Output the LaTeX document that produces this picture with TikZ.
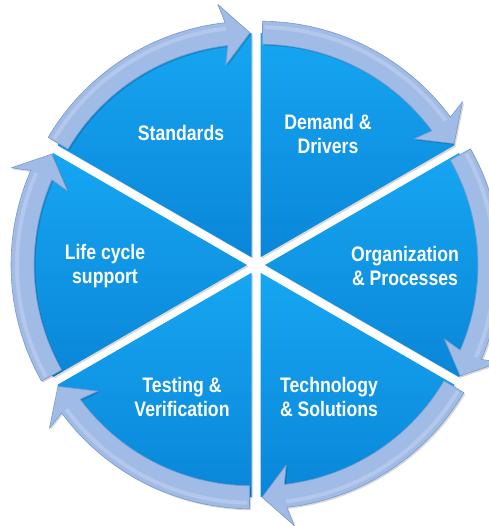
\documentclass[tikz,border=0pt]{standalone}
\usepackage{fontspec}
\setmainfont{Liberation Sans}[FakeStretch=0.84]
\definecolor{wedgetop}{HTML}{16A6F2}
\definecolor{wedgebot}{HTML}{0A86D8}
\definecolor{bandc}{HTML}{A0BBE6}
\definecolor{bandline}{HTML}{7A9ACC}
\begin{document}
\begin{tikzpicture}[x=1pt,y=1pt,
  wedgefill/.style={top color=wedgetop,bottom color=wedgebot,draw=none},
  wedgeshadow/.style={fill=black,opacity=0.15,draw=none},
  bandfill/.style={fill=bandc,draw=bandline,line width=0.6pt,line join=round},
  bandglow/.style={draw=white,opacity=0.2,line width=4pt},
  lbl/.style={text=white,font=\bfseries\fontsize{21}{24}\selectfont,align=center,inner sep=0pt}]
\useasboundingbox (0,0) rectangle (488,526);
\coordinate (C) at (256,261);
\foreach \b [evaluate=\b as \sa using \b+30,
             evaluate=\b as \ea using \b-30,
             evaluate=\b as \t using \b+29.5,
             evaluate=\b as \j using \b-23.6,
             evaluate=\b as \k using \b-22.4,
             evaluate=\b as \tip using \b-29.6] in {60,0,-60,-120,180,120} {
  \begin{scope}[shift={(C)},shift={(\b:9)}]
    \fill[wedgeshadow,shift={(1.5,-1.5)}] (0,0) -- (\sa:224) arc[start angle=\sa,end angle=\ea,radius=224] -- cycle;
    \shade[wedgefill] (0,0) -- (\sa:224) arc[start angle=\sa,end angle=\ea,radius=224] -- cycle;
    \fill[wedgeshadow,shift={(1.5,-1.5)}] (\t:236) arc[start angle=\t,end angle=\j,radius=236]
      -- (\k:255) -- (\tip:224.5) -- (\k:194) -- (\j:213)
      arc[start angle=\j,end angle=\t,radius=213] -- cycle;
    \path[bandfill] (\t:236) arc[start angle=\t,end angle=\j,radius=236]
      -- (\k:255) -- (\tip:224.5) -- (\k:194) -- (\j:213)
      arc[start angle=\j,end angle=\t,radius=213] -- cycle;
    \draw[bandglow] (\t-0.5:230) arc[start angle=\t-0.5,end angle=\j,radius=230];
  \end{scope}
}
\node[lbl] (std) at (181,393) {Standards};
\node[lbl] (dem) at (328,392) {Demand \&\\Drivers};
\node[lbl] (org) at (405,260) {Organization\\\& Processes};
\node[lbl] (tec) at (329,129) {Technology\\\& Solutions};
\node[lbl] (tst) at (182,129) {Testing \&\\Verification};
\node[lbl] (lif) at (105,260) {Life cycle\\support};
\end{tikzpicture}
\end{document}
